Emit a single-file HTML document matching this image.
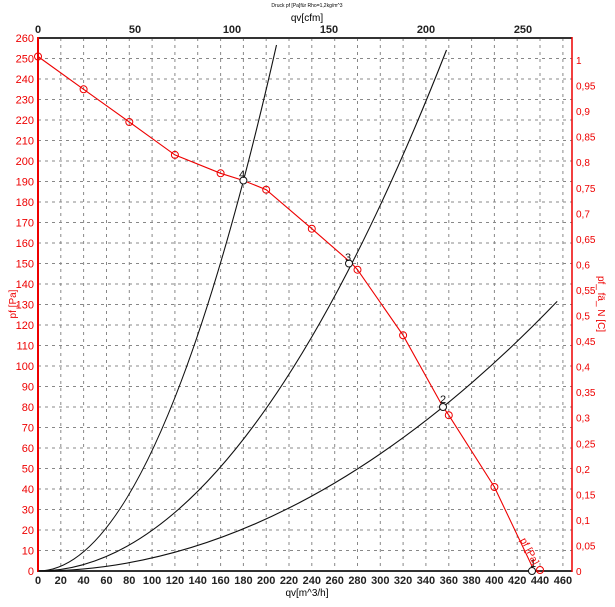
<!DOCTYPE html>
<html><head><meta charset="utf-8"><style>body{margin:0;background:#fff}svg{display:block}text{font-family:"Liberation Sans",sans-serif}</style></head><body>
<svg width="615" height="607" viewBox="0 0 615 607" xmlns="http://www.w3.org/2000/svg">
<rect width="615" height="607" fill="#fff"/>
<g stroke="#888" stroke-width="1" stroke-dasharray="3,4" fill="none">
<path d="M60.8 38V571M83.6 38V571M106.5 38V571M129.3 38V571M152.1 38V571M174.9 38V571M197.7 38V571M220.6 38V571M243.4 38V571M266.2 38V571M289 38V571M311.8 38V571M334.7 38V571M357.5 38V571M380.3 38V571M403.1 38V571M425.9 38V571M448.8 38V571M471.6 38V571M494.4 38V571M517.2 38V571M540 38V571M562.9 38V571"/>
<path d="M38 550.5H572M38 530H572M38 509.5H572M38 489H572M38 468.5H572M38 448H572M38 427.5H572M38 407H572M38 386.5H572M38 366H572M38 345.5H572M38 325H572M38 304.5H572M38 284H572M38 263.5H572M38 243H572M38 222.5H572M38 202H572M38 181.5H572M38 161H572M38 140.5H572M38 120H572M38 99.5H572M38 79H572M38 58.5H572"/>
</g>
<text x="307" y="7" font-size="5" text-anchor="middle">Druck pf  [Pa]für Rho=1,2kg/m^3</text>
<text x="307" y="21" font-size="10" text-anchor="middle">qv[cfm]</text>
<line x1="38" y1="38" x2="572" y2="38" stroke="#333" stroke-width="2"/>
<line x1="38" y1="571" x2="572" y2="571" stroke="#333" stroke-width="2"/>
<line x1="38" y1="37" x2="38" y2="572" stroke="#e00" stroke-width="2"/>
<line x1="572" y1="37" x2="572" y2="572" stroke="#e00" stroke-width="1.5"/>
<g font-size="11" font-weight="bold" text-anchor="middle" fill="#222">
<text x="38" y="33">0</text><text x="135" y="33">50</text><text x="232" y="33">100</text><text x="329" y="33">150</text><text x="426" y="33">200</text><text x="523" y="33">250</text>
</g>
<g font-size="11" font-weight="bold" text-anchor="middle" fill="#222">
<text x="38" y="584">0</text><text x="60.8" y="584">20</text><text x="83.6" y="584">40</text><text x="106.5" y="584">60</text><text x="129.3" y="584">80</text><text x="152.1" y="584">100</text><text x="174.9" y="584">120</text><text x="197.7" y="584">140</text><text x="220.6" y="584">160</text><text x="243.4" y="584">180</text><text x="266.2" y="584">200</text><text x="289" y="584">220</text><text x="311.8" y="584">240</text><text x="334.7" y="584">260</text><text x="357.5" y="584">280</text><text x="380.3" y="584">300</text><text x="403.1" y="584">320</text><text x="425.9" y="584">340</text><text x="448.8" y="584">360</text><text x="471.6" y="584">380</text><text x="494.4" y="584">400</text><text x="517.2" y="584">420</text><text x="540" y="584">440</text><text x="562.9" y="584">460</text>
</g>
<text x="307" y="596" font-size="10" text-anchor="middle">qv[m^3/h]</text>
<g font-size="11" text-anchor="end" fill="#e00">
<text x="34" y="575">0</text><text x="34" y="554.5">10</text><text x="34" y="534">20</text><text x="34" y="513.5">30</text><text x="34" y="493">40</text><text x="34" y="472.5">50</text><text x="34" y="452">60</text><text x="34" y="431.5">70</text><text x="34" y="411">80</text><text x="34" y="390.5">90</text><text x="34" y="370">100</text><text x="34" y="349.5">110</text><text x="34" y="329">120</text><text x="34" y="308.5">130</text><text x="34" y="288">140</text><text x="34" y="267.5">150</text><text x="34" y="247">160</text><text x="34" y="226.5">170</text><text x="34" y="206">180</text><text x="34" y="185.5">190</text><text x="34" y="165">200</text><text x="34" y="144.5">210</text><text x="34" y="124">220</text><text x="34" y="103.5">230</text><text x="34" y="83">240</text><text x="34" y="62.5">250</text><text x="34" y="42">260</text>
</g>
<g font-size="10" fill="#e00">
<text x="576" y="575">0</text><text x="576" y="549.5">0,05</text><text x="576" y="524">0,1</text><text x="576" y="498.4">0,15</text><text x="576" y="472.8">0,2</text><text x="576" y="447.3">0,25</text><text x="576" y="421.7">0,3</text><text x="576" y="396.2">0,35</text><text x="576" y="370.6">0,4</text><text x="576" y="345">0,45</text><text x="576" y="319.5">0,5</text><text x="576" y="294">0,55</text><text x="576" y="268.4">0,6</text><text x="576" y="242.9">0,65</text><text x="576" y="217.3">0,7</text><text x="576" y="191.8">0,75</text><text x="576" y="166.2">0,8</text><text x="576" y="140.7">0,85</text><text x="576" y="115.1">0,9</text><text x="576" y="89.6">0,95</text><text x="576" y="64">1</text>
</g>
<text transform="translate(16,304) rotate(-90)" font-size="10" fill="#e00" text-anchor="middle">pf  [Pa]</text>
<text transform="translate(598,304) rotate(90)" font-size="10" fill="#e00" text-anchor="middle">pf_ fä_ N [C]</text>
<g fill="none" stroke="#111" stroke-width="1.1">
<path d="M38 571Q157.2 571 276.5 45"/>
<path d="M38 571Q242.2 571 446.5 50"/>
<path d="M38 571Q297.6 571 557.2 301.4"/>
</g>
<polyline fill="none" stroke="#e00" stroke-width="1.1" points="38,56.5 83.6,89.3 129.3,122 174.9,154.9 220.6,173.3 243.4,180.5 266.2,189.7 311.8,228.7 351.8,263.5 357.5,269.7 403.1,335.3 443,407 448.8,415.2 494.4,487 534.3,571 540,571"/>
<g fill="none" stroke="#e00" stroke-width="1">
<circle cx="38" cy="56.5" r="3.5"/><circle cx="83.6" cy="89.3" r="3.5"/><circle cx="129.3" cy="122" r="3.5"/><circle cx="174.9" cy="154.9" r="3.5"/><circle cx="220.6" cy="173.3" r="3.5"/><circle cx="266.2" cy="189.7" r="3.5"/><circle cx="311.8" cy="228.7" r="3.5"/><circle cx="357.5" cy="269.7" r="3.5"/><circle cx="403.1" cy="335.3" r="3.5"/><circle cx="448.8" cy="415.2" r="3.5"/><circle cx="494.4" cy="487" r="3.5"/><circle cx="540" cy="570" r="3.5"/>
</g>
<g fill="#fff" stroke="#111" stroke-width="1">
<circle cx="243.4" cy="180.5" r="3.5"/><circle cx="349" cy="263.5" r="3.5"/><circle cx="443" cy="407" r="3.5"/><circle cx="532" cy="571" r="3.5"/>
</g>
<g font-size="11" fill="#111">
<text x="239" y="178">4</text><text x="345" y="261">3</text><text x="440" y="403">2</text><text x="530" y="567">1</text>
</g>
<text transform="translate(520,540) rotate(62)" font-size="10" fill="#e00">pf  [Pa]</text>
</svg>
</body></html>
